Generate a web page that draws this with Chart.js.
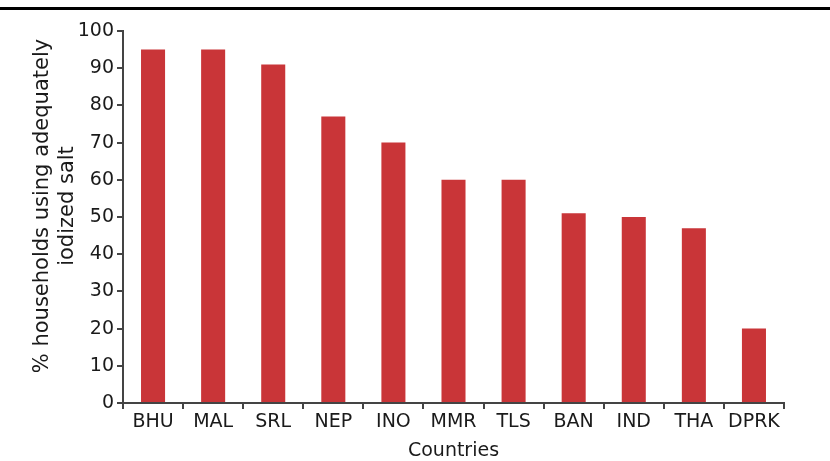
<!DOCTYPE html>
<html>
<head>
<meta charset="utf-8">
<script src="https://cdn.jsdelivr.net/npm/chart.js@4.4.0/dist/chart.umd.min.js"></script>
<style>
  html, body { margin: 0; padding: 0; background: #fff; }
  #wrap { width: 830px; height: 461px; }
</style>
</head>
<body>
<div id="wrap"><canvas id="saltChart" width="830" height="461"></canvas></div>
<script>
const countries = ['BHU', 'MAL', 'SRL', 'NEP', 'INO', 'MMR', 'TLS', 'BAN', 'IND', 'THA', 'DPRK'];
const iodizedSalt = [95, 95, 91, 77, 70, 60, 60, 51, 50, 47, 20];
const yMin = 0;
const yMax = 100;
const yStep = 10;
const yTitleLines = ['% households using adequately', 'iodized salt'];
const xTitle = 'Countries';

const fontFamily = '"DejaVu Sans", Verdana, sans-serif';
const textColor = '#1a1a1a';
const axisColor = '#444';

// top rule + two-line rotated y title
const framePlugin = {
    id: 'frame',
    afterDraw(chart) {
        const ctx = chart.ctx;
        ctx.save();
        ctx.fillStyle = '#000';
        ctx.fillRect(0, 7, chart.width, 3);

        ctx.fillStyle = textColor;
        ctx.font = '21px ' + fontFamily;
        ctx.textAlign = 'center';
        ctx.textBaseline = 'middle';
        const midY = 206;
        const xs = [43, 68];
        yTitleLines.forEach((line, i) => {
            ctx.save();
            ctx.translate(xs[i], midY);
            ctx.rotate(-Math.PI / 2);
            ctx.fillText(line, 0, 0);
            ctx.restore();
        });
        ctx.restore();
    }
};

const ctx = document.getElementById('saltChart').getContext('2d');
new Chart(ctx, {
    type: 'bar',
    data: {
        labels: countries,
        datasets: [{
            label: 'Iodized salt',
            data: iodizedSalt,
            backgroundColor: '#c93538',
            barPercentage: 0.4,
            categoryPercentage: 1
        }]
    },
    options: {
        responsive: false,
        animation: false,
        devicePixelRatio: 1,
        layout: {
            padding: { top: 31, right: 46, left: 0, bottom: 0 }
        },
        plugins: {
            legend: { display: false },
            tooltip: { enabled: false }
        },
        scales: {
            x: {
                grid: {
                    drawOnChartArea: false,
                    drawTicks: true,
                    tickLength: 6,
                    color: axisColor,
                    lineWidth: 2
                },
                border: { color: axisColor, width: 2 },
                ticks: {
                    color: textColor,
                    padding: 2,
                    maxRotation: 0,
                    autoSkip: false,
                    font: { family: fontFamily, size: 19 }
                },
                title: {
                    display: true,
                    text: xTitle,
                    color: textColor,
                    padding: 0,
                    font: { family: fontFamily, size: 19, lineHeight: 1 }
                },
                afterFit(scale) {
                    scale.height = 58;
                }
            },
            y: {
                min: yMin,
                max: yMax,
                grid: {
                    drawOnChartArea: false,
                    drawTicks: true,
                    tickLength: 6,
                    color: axisColor,
                    lineWidth: 2
                },
                border: { color: axisColor, width: 2 },
                ticks: {
                    stepSize: yStep,
                    color: textColor,
                    padding: 3,
                    font: { family: fontFamily, size: 19 }
                },
                afterFit(scale) {
                    scale.width = 123;
                }
            }
        }
    },
    plugins: [framePlugin]
});
</script>
</body>
</html>
